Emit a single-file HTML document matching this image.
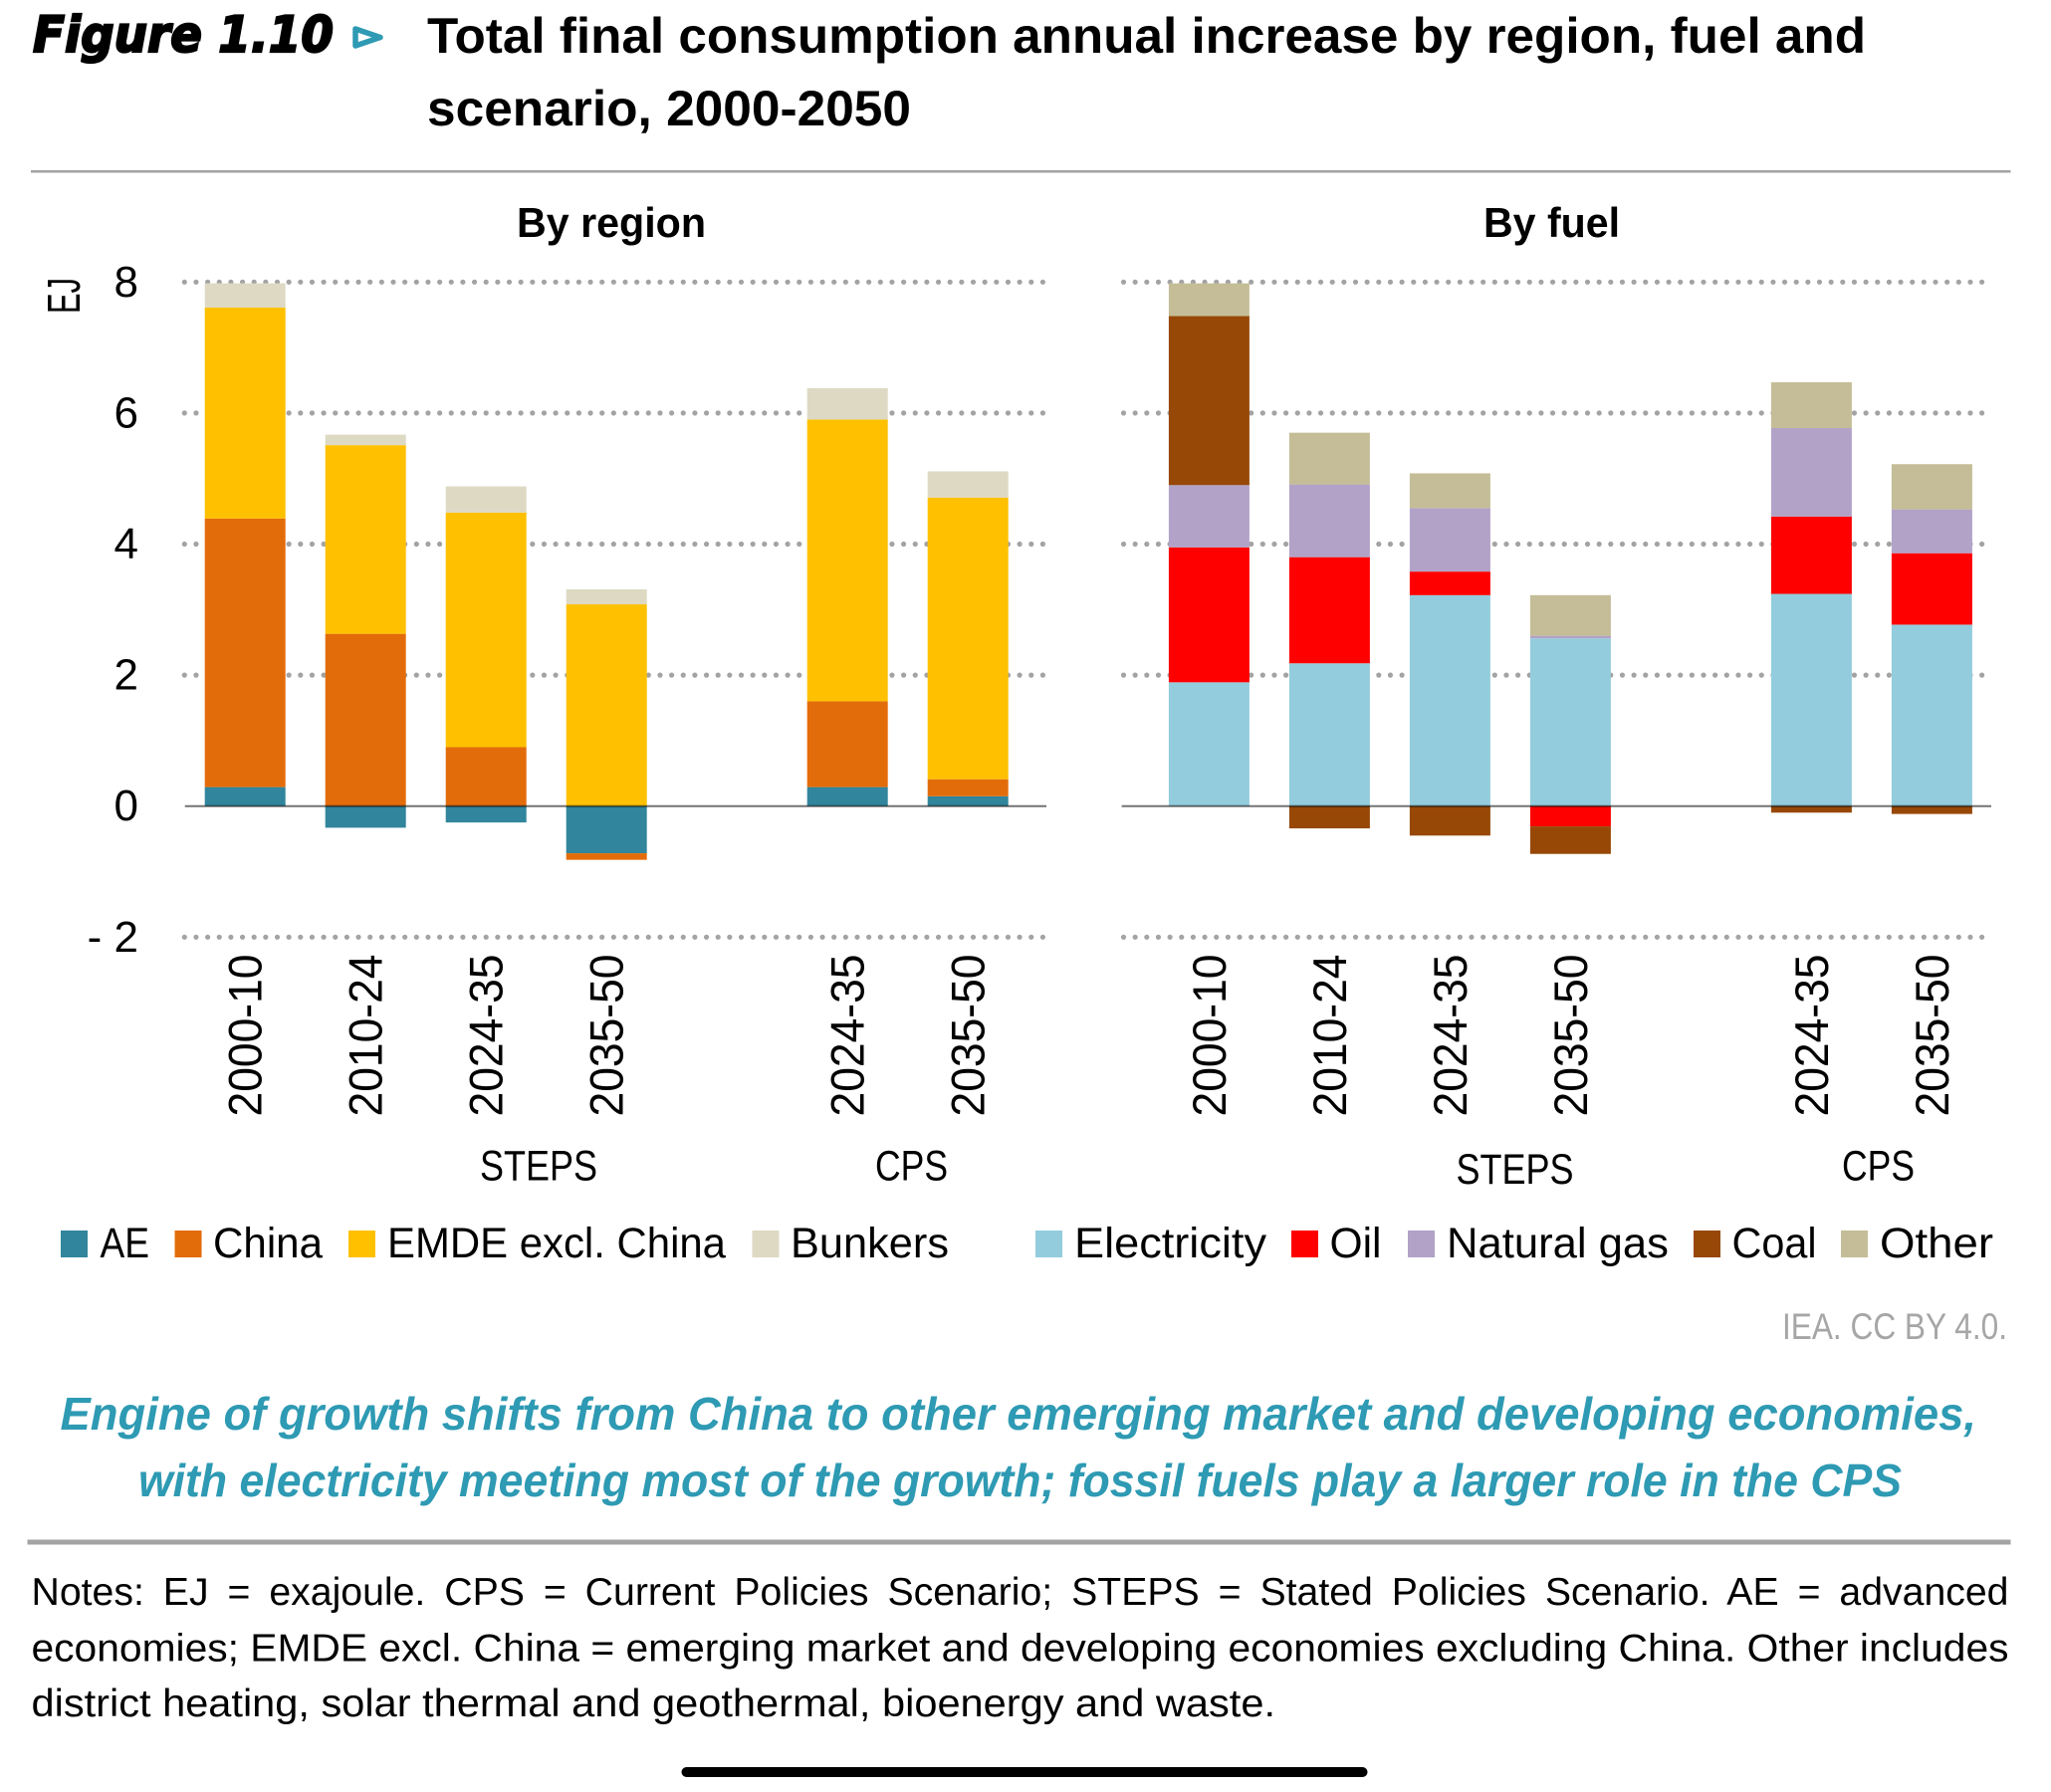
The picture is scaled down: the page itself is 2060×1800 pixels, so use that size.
<!DOCTYPE html>
<html lang="en">
<head>
<meta charset="utf-8">
<title>Figure 1.10 Total final consumption annual increase</title>
<style>
html,body{margin:0;padding:0;background:#fff;}
svg{display:block;}
text{font-family:"Liberation Sans",sans-serif;fill:#000;}
.t{font-size:43px;}
</style>
</head>
<body>
<svg id="figure" xmlns="http://www.w3.org/2000/svg" width="2060" height="1800" viewBox="0 0 2060 1800">
  <rect width="2060" height="1800" fill="#fff"/>
  <text x="33" y="52" font-size="50" font-weight="bold" font-style="italic" stroke="#000" stroke-width="2.2" textLength="302" lengthAdjust="spacingAndGlyphs" style="font-family:'DejaVu Sans',sans-serif">Figure 1.10</text>
  <polygon points="357,29 357,46 382,37.5" fill="none" stroke="#2e9ab3" stroke-width="5.5" stroke-linejoin="round"/>
  <text x="429" y="53" font-size="50" font-weight="bold" textLength="1445" lengthAdjust="spacingAndGlyphs">Total final consumption annual increase by region, fuel and</text>
  <text x="429" y="126" font-size="50" font-weight="bold" textLength="486" lengthAdjust="spacingAndGlyphs">scenario, 2000-2050</text>
  <rect x="31" y="171" width="1988.5" height="2.5" fill="#a3a3a3"/>

  <text x="519" y="238" font-size="42" font-weight="bold" textLength="190" lengthAdjust="spacingAndGlyphs">By region</text>
  <text x="1490" y="238" font-size="42" font-weight="bold" textLength="137" lengthAdjust="spacingAndGlyphs">By fuel</text>
  <text transform="translate(80,315) rotate(-90)" font-size="46" textLength="36" lengthAdjust="spacingAndGlyphs">EJ</text>

  <g id="gridLayer"></g>
  <g id="barLayer"></g>
  <g id="axisLayer"></g>

  <text class="t" x="482" y="1185.5" textLength="118" lengthAdjust="spacingAndGlyphs">STEPS</text>
  <text class="t" x="879" y="1185.5" textLength="73" lengthAdjust="spacingAndGlyphs">CPS</text>
  <text class="t" x="1462.5" y="1189" textLength="118" lengthAdjust="spacingAndGlyphs">STEPS</text>
  <text class="t" x="1850" y="1185.5" textLength="73" lengthAdjust="spacingAndGlyphs">CPS</text>

  <g>
    <rect x="61" y="1236" width="27" height="27" fill="#31859c"/>
    <text class="t" x="100.5" y="1263" textLength="49.5" lengthAdjust="spacingAndGlyphs">AE</text>
    <rect x="175.5" y="1236" width="27" height="27" fill="#e36c0a"/>
    <text class="t" x="214" y="1263" textLength="110" lengthAdjust="spacingAndGlyphs">China</text>
    <rect x="350" y="1236" width="27" height="27" fill="#ffc000"/>
    <text class="t" x="389" y="1263" textLength="340" lengthAdjust="spacingAndGlyphs">EMDE excl. China</text>
    <rect x="755.5" y="1236" width="27" height="27" fill="#ddd9c3"/>
    <text class="t" x="794" y="1263" textLength="159" lengthAdjust="spacingAndGlyphs">Bunkers</text>
  </g>
  <g>
    <rect x="1040" y="1236" width="27" height="27" fill="#93cddd"/>
    <text class="t" x="1079" y="1263" textLength="193" lengthAdjust="spacingAndGlyphs">Electricity</text>
    <rect x="1297" y="1236" width="27" height="27" fill="#ff0000"/>
    <text class="t" x="1335.5" y="1263" textLength="52" lengthAdjust="spacingAndGlyphs">Oil</text>
    <rect x="1414" y="1236" width="27" height="27" fill="#b2a2c7"/>
    <text class="t" x="1453" y="1263" textLength="223" lengthAdjust="spacingAndGlyphs">Natural gas</text>
    <rect x="1701" y="1236" width="27" height="27" fill="#974806"/>
    <text class="t" x="1739.5" y="1263" textLength="85" lengthAdjust="spacingAndGlyphs">Coal</text>
    <rect x="1849" y="1236" width="27" height="27" fill="#c4bd97"/>
    <text class="t" x="1888" y="1263" textLength="114" lengthAdjust="spacingAndGlyphs">Other</text>
  </g>

  <text x="1790" y="1345" font-size="37" style="fill:#a6a6a6" textLength="226" lengthAdjust="spacingAndGlyphs">IEA. CC BY 4.0.</text>

  <text x="60.5" y="1436" font-size="46" font-weight="bold" font-style="italic" style="fill:#2e9ab3" textLength="1924.5" lengthAdjust="spacingAndGlyphs">Engine of growth shifts from China to other emerging market and developing economies,</text>
  <text x="139" y="1503" font-size="46" font-weight="bold" font-style="italic" style="fill:#2e9ab3" textLength="1771" lengthAdjust="spacingAndGlyphs">with electricity meeting most of the growth; fossil fuels play a larger role in the CPS</text>
  <rect x="27.5" y="1546.5" width="1992" height="5" fill="#a3a3a3"/>

  <text x="31.5" y="1612" font-size="39" word-spacing="8" textLength="1986" lengthAdjust="spacingAndGlyphs">Notes: EJ = exajoule. CPS = Current Policies Scenario; STEPS = Stated Policies Scenario. AE = advanced</text>
  <text x="31.5" y="1668.5" font-size="39" textLength="1986" lengthAdjust="spacingAndGlyphs">economies; EMDE excl. China = emerging market and developing economies excluding China. Other includes</text>
  <text x="31.5" y="1724" font-size="39" textLength="1249.5" lengthAdjust="spacingAndGlyphs">district heating, solar thermal and geothermal, bioenergy and waste.</text>

  <rect x="684.5" y="1775" width="689" height="10" rx="5" fill="#000"/>
</svg>
<script>
// Chart data (EJ per year)
const categories = ["2000-10", "2010-24", "2024-35", "2035-50", null, "2024-35", "2035-50"];
const yTicks = [8, 6, 4, 2, 0, -2];
const yTickLabels = ["8", "6", "4", "2", "0", "- 2"];

const regionAE      = [0.29, -0.33, -0.25, -0.72, null, 0.29, 0.15];
const regionChina   = [4.10,  2.63,  0.90, -0.10, null, 1.31, 0.26];
const regionEMDE    = [3.22,  2.88,  3.58,  3.08, null, 4.30, 4.30];
const regionBunkers = [0.37,  0.16,  0.40,  0.23, null, 0.48, 0.40];

const fuelElectricity = [1.89, 2.18, 3.22, 2.56, null, 3.24, 2.77];
const fuelOil         = [2.06, 1.62, 0.36, -0.31, null, 1.18, 1.09];
const fuelGas         = [0.95, 1.11, 0.97, 0.04, null, 1.35, 0.67];
const fuelCoal        = [2.58, -0.34, -0.45, -0.42, null, -0.10, -0.12];
const fuelOther       = [0.50, 0.79, 0.53, 0.62, null, 0.70, 0.69];

const regionNames = ["ae", "china", "emde", "bunkers"];
const fuelNames = ["electricity", "oil", "natural-gas", "coal", "other"];

const regionColors = ["#31859c", "#e36c0a", "#ffc000", "#ddd9c3"];
const fuelColors = ["#93cddd", "#ff0000", "#b2a2c7", "#974806", "#c4bd97"];

const SVGNS = "http://www.w3.org/2000/svg";
const grid = document.getElementById("gridLayer");
const bars = document.getElementById("barLayer");
const axes = document.getElementById("axisLayer");

function yScale(v) { return 809.7 - 65.8 * v; }
function xCenter(panelStart, i) { return panelStart + 121 * i; }

function drawPanel(panelName, panelStart, gridX0, gridX1, axisX0, axisX1, seriesList, names, colors) {
  yTicks.forEach(function (t) {
    if (t === 0) return;
    const line = document.createElementNS(SVGNS, "line");
    
    
    line.setAttribute("x1", gridX0);
    line.setAttribute("x2", gridX1);
    line.setAttribute("y1", yScale(t));
    line.setAttribute("y2", yScale(t));
    line.setAttribute("stroke", "#a3a3a3");
    line.setAttribute("stroke-width", "5.2");
    line.setAttribute("stroke-linecap", "round");
    line.setAttribute("stroke-dasharray", "0 11.65");
    grid.appendChild(line);
  });

  categories.forEach(function (cat, i) {
    if (cat === null) return;
    const cx = xCenter(panelStart, i);
    let pos = 0, neg = 0;
    seriesList.forEach(function (series, s) {
      const v = series[i];
      const from = v >= 0 ? pos : neg;
      const to = from + v;
      if (v >= 0) pos = to; else neg = to;
      const rect = document.createElementNS(SVGNS, "rect");
      
      
      rect.setAttribute("x", cx - 40.5);
      rect.setAttribute("width", 81);
      rect.setAttribute("y", Math.min(yScale(from), yScale(to)));
      rect.setAttribute("height", Math.abs(yScale(to) - yScale(from)));
      rect.setAttribute("fill", colors[s]);
      bars.appendChild(rect);
    });

    const label = document.createElementNS(SVGNS, "text");
    
    
    label.setAttribute("transform", "translate(" + (cx + 16.5) + ",1121.5) rotate(-90)");
    label.setAttribute("font-size", "47");
    label.setAttribute("textLength", "163");
    label.setAttribute("lengthAdjust", "spacingAndGlyphs");
    label.textContent = cat;
    axes.appendChild(label);
  });

  const zero = document.createElementNS(SVGNS, "line");
  
  
  zero.setAttribute("x1", axisX0);
  zero.setAttribute("x2", axisX1);
  zero.setAttribute("y1", yScale(0));
  zero.setAttribute("y2", yScale(0));
  zero.setAttribute("stroke", "#000");
  zero.setAttribute("stroke-opacity", "0.55");
  zero.setAttribute("stroke-width", "2");
  axes.appendChild(zero);
}

yTicks.forEach(function (t, i) {
  const label = document.createElementNS(SVGNS, "text");
  
  
  label.setAttribute("x", 139);
  label.setAttribute("y", yScale(t) + 14.5);
  label.setAttribute("font-size", "44");
  label.setAttribute("text-anchor", "end");
  label.textContent = yTickLabels[i];
  axes.appendChild(label);
});

drawPanel("region", 246.2, 185.3, 1050, 185.7, 1051,
  [regionAE, regionChina, regionEMDE, regionBunkers], regionNames, regionColors);
drawPanel("fuel", 1214.4, 1128.5, 1991, 1126.6, 2000,
  [fuelElectricity, fuelOil, fuelGas, fuelCoal, fuelOther], fuelNames, fuelColors);
</script>
</body>
</html>
